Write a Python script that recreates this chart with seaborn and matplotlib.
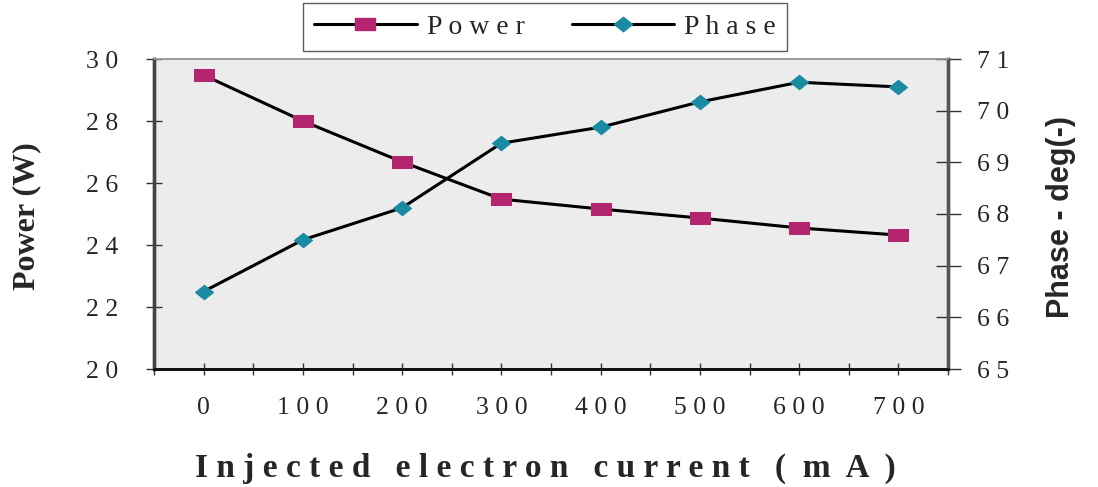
import numpy as np
import matplotlib
matplotlib.use("Agg")
import matplotlib.pyplot as plt
from matplotlib.path import Path
from matplotlib.lines import Line2D
from matplotlib.ticker import FixedLocator
import seaborn as sns
import pandas as pd

# Measured data
currents = [0, 100, 200, 300, 400, 500, 600, 700]          # injected electron current (mA)
power = [29.48, 28.0, 26.68, 25.48, 25.16, 24.87, 24.55, 24.32]  # output power (W)
phase = [66.50, 67.50, 68.12, 69.37, 69.68, 70.17, 70.55, 70.46]  # phase (deg)

power_ticks = [20, 22, 24, 26, 28, 30]
phase_ticks = [65, 66, 67, 68, 69, 70, 71]


def spaced(s):
    return " ".join(str(s))


sns.set_theme(style="white")
plt.rcParams["font.family"] = ["Liberation Serif", "DejaVu Serif"]

df = pd.DataFrame({"pos": np.arange(len(currents)), "current": currents,
                   "power": power, "phase": phase})

POWER_C = "#b3266f"
PHASE_C = "#1b8ba3"

rect = Path([(-1, -0.62), (1, -0.62), (1, 0.62), (-1, 0.62), (-1, -0.62)],
            [Path.MOVETO, Path.LINETO, Path.LINETO, Path.LINETO, Path.CLOSEPOLY])
diamond = Path([(0, 0.8), (1, 0), (0, -0.8), (-1, 0), (0, 0.8)],
               [Path.MOVETO, Path.LINETO, Path.LINETO, Path.LINETO, Path.CLOSEPOLY])

fig = plt.figure(figsize=(10.98, 4.87), dpi=100)
ax = fig.add_axes([154 / 1098, 1 - 369 / 487, 794 / 1098, 310 / 487])
ax.set_facecolor("#ececec")
ax2 = ax.twinx()

sns.lineplot(data=df, x="pos", y="power", ax=ax, color="black", lw=2.2,
             marker=rect, markersize=14, markerfacecolor=POWER_C,
             markeredgecolor=POWER_C, zorder=3)
sns.lineplot(data=df, x="pos", y="phase", ax=ax2, color="black", lw=2.2,
             marker=diamond, markersize=13, markerfacecolor=PHASE_C,
             markeredgecolor=PHASE_C, zorder=3)

n = len(currents)
ax.set_xlim(-0.5, n - 0.5)
ax.set_ylim(power_ticks[0], power_ticks[-1])
ax2.set_ylim(phase_ticks[0], phase_ticks[-1])

ax.xaxis.set_major_locator(FixedLocator(np.arange(n)))
ax.xaxis.set_minor_locator(FixedLocator(np.arange(n + 1) - 0.5))
ax.set_xticklabels([spaced(c) for c in currents])
ax.set_yticks(power_ticks)
ax.set_yticklabels([spaced(t) for t in power_ticks])
ax2.set_yticks(phase_ticks)
ax2.set_yticklabels([spaced(t) for t in phase_ticks])

ax.tick_params(axis="x", which="both", direction="inout", length=8, width=1,
               color="#333333", bottom=True, labelsize=18.5, pad=16)
ax.tick_params(axis="y", direction="inout", length=12, width=1,
               color="#333333", left=True, labelsize=18.5, pad=20)
ax2.tick_params(axis="y", direction="inout", length=18, width=1,
                color="#333333", right=True, labelsize=18.5, pad=12)

for a in (ax, ax2):
    a.spines["left"].set_color("#444444")
    a.spines["left"].set_linewidth(2.4)
    a.spines["bottom"].set_color("#111111")
    a.spines["bottom"].set_linewidth(2.0)
    a.spines["right"].set_color("#555555")
    a.spines["right"].set_linewidth(2.4)
    a.spines["top"].set_color("#9a9a9a")
    a.spines["top"].set_linewidth(1.2)

ax.set_xlabel("I n j e c t e d   e l e c t r o n   c u r r e n t   (  m  A  )",
              fontsize=24, fontweight="bold")
ax.xaxis.set_label_coords(0.493, -0.27)
ax.set_ylabel("Power (W)", fontsize=23, fontweight="bold")
ax.yaxis.set_label_coords(-0.142, 0.494)
ax2.set_ylabel("Phase - deg(-)", fontsize=22, fontweight="bold",
               family=["Liberation Sans", "DejaVu Sans"])
ax2.yaxis.set_label_coords(1.124, 0.49)

handles = [
    Line2D([], [], color="black", lw=2.2, marker=rect, markersize=14,
           markerfacecolor=POWER_C, markeredgecolor=POWER_C),
    Line2D([], [], color="black", lw=2.2, marker=diamond, markersize=13,
           markerfacecolor=PHASE_C, markeredgecolor=PHASE_C),
]
leg = fig.legend(handles, [spaced("Power"), spaced("Phase")], ncol=2,
                 loc="upper center", bbox_to_anchor=(545 / 1098, 1 - 3 / 487),
                 fontsize=20, frameon=True, fancybox=False, shadow=False,
                 handlelength=3.7, handletextpad=0.35, columnspacing=1.7,
                 borderpad=0.4, borderaxespad=0)
leg.get_frame().set_edgecolor("#333333")
leg.get_frame().set_linewidth(1.0)

fig.savefig("out.png", dpi=100, facecolor="white")
